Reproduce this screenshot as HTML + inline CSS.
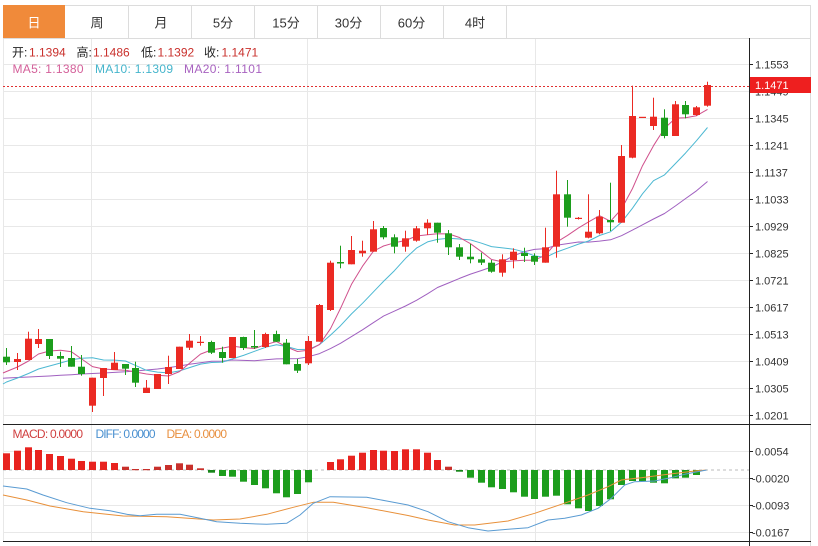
<!DOCTYPE html>
<html>
<head>
<meta charset="utf-8">
<style>
html,body{margin:0;padding:0;background:#fff;}
body{width:818px;height:546px;overflow:hidden;}
svg{display:block;}
.ax{font-family:"Liberation Sans","Noto Sans CJK SC",sans-serif;font-size:11px;fill:#333;}
.tab{font-family:"Liberation Sans","Noto Sans CJK SC",sans-serif;font-size:13px;fill:#333;text-anchor:middle;}
.inf{font-family:"Liberation Sans","Noto Sans CJK SC",sans-serif;font-size:12px;}
</style>
</head>
<body>
<svg width="818" height="546" viewBox="0 0 818 546" xmlns="http://www.w3.org/2000/svg">
<rect x="0" y="0" width="818" height="546" fill="#fff"/>

<!-- grid main -->
<g stroke="#e8e8e8" stroke-width="1" shape-rendering="crispEdges">
<line x1="3" x2="749" y1="64.5" y2="64.5"/>
<line x1="3" x2="749" y1="91.5" y2="91.5"/>
<line x1="3" x2="749" y1="118.5" y2="118.5"/>
<line x1="3" x2="749" y1="145.5" y2="145.5"/>
<line x1="3" x2="749" y1="172.5" y2="172.5"/>
<line x1="3" x2="749" y1="199.5" y2="199.5"/>
<line x1="3" x2="749" y1="226.5" y2="226.5"/>
<line x1="3" x2="749" y1="253.5" y2="253.5"/>
<line x1="3" x2="749" y1="280.5" y2="280.5"/>
<line x1="3" x2="749" y1="307.5" y2="307.5"/>
<line x1="3" x2="749" y1="334.5" y2="334.5"/>
<line x1="3" x2="749" y1="361.5" y2="361.5"/>
<line x1="3" x2="749" y1="388.5" y2="388.5"/>
<line x1="3" x2="749" y1="415.5" y2="415.5"/>
<line x1="3" x2="749" y1="451.5" y2="451.5"/>
<line x1="3" x2="749" y1="478.5" y2="478.5"/>
<line x1="3" x2="749" y1="505.5" y2="505.5"/>
<line x1="3" x2="749" y1="532.5" y2="532.5"/>
<line x1="3.5" x2="3.5" y1="38" y2="541"/>
<line x1="91.5" x2="91.5" y1="38" y2="541"/>
<line x1="307.5" x2="307.5" y1="38" y2="541"/>
<line x1="535.5" x2="535.5" y1="38" y2="541"/>
</g>

<!-- outer / tab borders -->
<g stroke="#dcdcdc" stroke-width="1" shape-rendering="crispEdges" fill="none">
<line x1="3" x2="811" y1="5.5" y2="5.5"/>
<line x1="3" x2="811" y1="38.5" y2="38.5"/>
<line x1="810.5" x2="810.5" y1="5" y2="546"/>
<line x1="128.5" x2="128.5" y1="5" y2="38"/>
<line x1="191.5" x2="191.5" y1="5" y2="38"/>
<line x1="254.5" x2="254.5" y1="5" y2="38"/>
<line x1="317.5" x2="317.5" y1="5" y2="38"/>
<line x1="380.5" x2="380.5" y1="5" y2="38"/>
<line x1="443.5" x2="443.5" y1="5" y2="38"/>
<line x1="506.5" x2="506.5" y1="5" y2="38"/>
</g>
<rect x="3" y="5" width="62" height="33" fill="#f08a3a"/>

<!-- tabs -->
<text class="tab" x="34" y="27.5" style="fill:#fff">日</text>
<text class="tab" x="97" y="27.5">周</text>
<text class="tab" x="161" y="27.5">月</text>
<text class="tab" x="223" y="27.5">5分</text>
<text class="tab" x="286" y="27.5">15分</text>
<text class="tab" x="348.5" y="27.5">30分</text>
<text class="tab" x="411.5" y="27.5">60分</text>
<text class="tab" x="475" y="27.5">4时</text>

<!-- info -->
<g class="inf">
<text x="12" y="56.5" fill="#222">开:</text><text x="29" y="56.5" fill="#c9302c">1.1394</text>
<text x="76.5" y="56.5" fill="#222">高:</text><text x="93" y="56.5" fill="#c9302c">1.1486</text>
<text x="141" y="56.5" fill="#222">低:</text><text x="157.5" y="56.5" fill="#c9302c">1.1392</text>
<text x="204" y="56.5" fill="#222">收:</text><text x="221.5" y="56.5" fill="#c9302c">1.1471</text>
<text x="12.5" y="73" fill="#d4609a" textLength="71">MA5: 1.1380</text>
<text x="95" y="73" fill="#45b5cc" textLength="78">MA10: 1.1309</text>
<text x="184" y="73" fill="#a862c0" textLength="78">MA20: 1.1101</text>
</g>

<!-- MA lines -->
<g fill="none" stroke-width="1" stroke-linejoin="round">
<polyline stroke="#a060c0" points="3,378.3 6.5,378 17.5,377.5 28.5,377 38.5,376.5 49.5,376 60.5,375.3 71.5,374.7 81.5,374 92.5,373.5 103.5,373 114.5,372.4 125.5,371.8 135.5,371 146.5,370 157.5,369 168.5,367.6 179.5,366 189.5,364.3 200.5,362.8 211.5,361.3 222.5,361.1 232.5,360 243.5,360.4 254.5,360.8 265.5,359.7 276.5,358.9 286.5,358.7 297.5,358.6 308.5,356.7 319.5,353.6 330.5,348.6 340.5,343.3 351.5,336.6 362.5,329.8 373.5,322.6 383.5,316.1 394.5,311.1 405.5,306 416.5,300.3 427.5,293.8 437.5,287.5 448.5,283 459.5,278.4 470.5,274.1 481.5,270.5 491.5,267 502.5,261.8 513.5,255.8 524.5,251.6 534.5,249.4 545.5,248.6 556.5,245.2 567.5,243.6 578.5,242 588.5,242.1 599.5,241.1 610.5,239.8 621.5,235.7 632.5,230.1 642.5,224.8 653.5,219 664.5,213.5 675.5,205.9 685.5,198.6 696.5,190.8 707.5,181.5"/>
<polyline stroke="#4cb8d2" points="3,384 6.5,382 17.5,378 28.5,373.5 38.5,369 49.5,366 60.5,363 71.5,359.8 81.5,358.3 92.5,357.8 103.5,360 114.5,360.1 125.5,361 135.5,365.4 146.5,370.3 157.5,372.1 168.5,372.9 179.5,370.9 189.5,367.6 200.5,364.1 211.5,362.5 222.5,362.1 232.5,358.9 243.5,355.4 254.5,351.3 265.5,347.3 276.5,344.8 286.5,346.5 297.5,349.5 308.5,349.4 319.5,344.6 330.5,335.1 340.5,325.7 351.5,313.9 362.5,303.3 373.5,291.8 383.5,281.4 394.5,270.6 405.5,258.4 416.5,248.1 427.5,241.9 437.5,239.4 448.5,238.3 459.5,239 470.5,239.9 481.5,243.2 491.5,246.6 502.5,247.9 513.5,249.2 524.5,252 534.5,255.9 545.5,257.4 556.5,252.1 567.5,248.2 578.5,244.1 588.5,241 599.5,235.5 610.5,231.8 621.5,222.2 632.5,208.2 642.5,193.8 653.5,180.7 664.5,174.9 675.5,163.5 685.5,153.1 696.5,140.7 707.5,127.5"/>
<polyline stroke="#d0508c" points="3,373 6.5,371.5 17.5,367 28.5,361 38.5,354 49.5,351 60.5,350.3 71.5,351.8 81.5,358.9 92.5,366.6 103.5,369 114.5,369.8 125.5,370.2 135.5,372 146.5,374 157.5,375.2 168.5,376 179.5,371.6 189.5,363.2 200.5,354.1 211.5,349.9 222.5,348.1 232.5,346.1 243.5,347.6 254.5,348.5 265.5,344.7 276.5,341.5 286.5,346.9 297.5,351.5 308.5,350.3 319.5,344.5 330.5,328.7 340.5,308.4 351.5,284.3 362.5,266.2 373.5,251.1 383.5,246 394.5,242.8 405.5,240.5 416.5,236 427.5,234.7 437.5,233.7 448.5,233.9 459.5,237.5 470.5,243.7 481.5,251.7 491.5,259.5 502.5,261.9 513.5,260.9 524.5,260.3 534.5,260.1 545.5,255.2 556.5,242.2 567.5,235.4 578.5,227.9 588.5,221.9 599.5,215.7 610.5,221.3 621.5,209 632.5,188.5 642.5,165.7 653.5,145.7 664.5,128.4 675.5,118.1 685.5,117.7 696.5,115.7 707.5,109.4"/>
</g>

<!-- red candles -->
<g fill="#eb2a23">
<rect x="17" y="353" width="1" height="17"/><rect x="14" y="359" width="7" height="3"/>
<rect x="28" y="331.7" width="1" height="28.3"/><rect x="25" y="338.7" width="7" height="21.3"/>
<rect x="38" y="329" width="1" height="19"/><rect x="35" y="339" width="7" height="5"/>
<rect x="92" y="377.7" width="1" height="34.3"/><rect x="89" y="377.7" width="7" height="28"/>
<rect x="103" y="368" width="1" height="28"/><rect x="100" y="368" width="7" height="10"/>
<rect x="114" y="352" width="1" height="18"/><rect x="111" y="362.7" width="7" height="7.3"/>
<rect x="146" y="380" width="1" height="13"/><rect x="143" y="387.7" width="7" height="5.3"/>
<rect x="157" y="374" width="1" height="15"/><rect x="154" y="374" width="7" height="15"/>
<rect x="168" y="355.7" width="1" height="28.3"/><rect x="165" y="367" width="7" height="7"/>
<rect x="179" y="346.7" width="1" height="22.3"/><rect x="176" y="346.7" width="7" height="22.3"/>
<rect x="189" y="334" width="1" height="16"/><rect x="186" y="340.7" width="7" height="7"/>
<rect x="200" y="336" width="1" height="9.7"/><rect x="197" y="341.8" width="7" height="1.2"/>
<rect x="232" y="337" width="1" height="21"/><rect x="229" y="337" width="7" height="21"/>
<rect x="265" y="332.7" width="1" height="15.3"/><rect x="262" y="334" width="7" height="13"/>
<rect x="308" y="336" width="1" height="29"/><rect x="305" y="341" width="7" height="22.3"/>
<rect x="319" y="304" width="1" height="37.7"/><rect x="316" y="305" width="7" height="36.7"/>
<rect x="330" y="260.7" width="1" height="50.3"/><rect x="327" y="262.7" width="7" height="47.3"/>
<rect x="351" y="236" width="1" height="28.3"/><rect x="348" y="250" width="7" height="14.3"/>
<rect x="362" y="240.7" width="1" height="16"/><rect x="359" y="250.7" width="7" height="2.6"/>
<rect x="373" y="221" width="1" height="30.7"/><rect x="370" y="229.3" width="7" height="22.4"/>
<rect x="405" y="230.7" width="1" height="21"/><rect x="402" y="238.3" width="7" height="8.4"/>
<rect x="416" y="226" width="1" height="15.7"/><rect x="413" y="228.3" width="7" height="12.4"/>
<rect x="427" y="219.3" width="1" height="15.7"/><rect x="424" y="222.7" width="7" height="5.6"/>
<rect x="502" y="254.3" width="1" height="22.4"/><rect x="499" y="259.3" width="7" height="13.4"/>
<rect x="513" y="248.3" width="1" height="20"/><rect x="510" y="251.7" width="7" height="8.3"/>
<rect x="545" y="227.7" width="1" height="35"/><rect x="542" y="247.3" width="7" height="15.4"/>
<rect x="556" y="170.7" width="1" height="87"/><rect x="553" y="194.3" width="7" height="52.4"/>
<rect x="578" y="217" width="1" height="2.5"/><rect x="575" y="217.8" width="7" height="1.2"/>
<rect x="588" y="194.3" width="1" height="44"/><rect x="585" y="231.7" width="7" height="6"/>
<rect x="599" y="210" width="1" height="24.3"/><rect x="596" y="216.7" width="7" height="16.6"/>
<rect x="621" y="145" width="1" height="77.7"/><rect x="618" y="156" width="7" height="66.7"/>
<rect x="632" y="85.7" width="1" height="72.6"/><rect x="629" y="116" width="7" height="41.7"/>
<rect x="639" y="116.8" width="7" height="1.2"/>
<rect x="653" y="97.7" width="1" height="32.3"/><rect x="650" y="116.7" width="7" height="9.3"/>
<rect x="675" y="101" width="1" height="35"/><rect x="672" y="104.3" width="7" height="31.7"/>
<rect x="696" y="106" width="1" height="9.7"/><rect x="693" y="107.3" width="7" height="7.7"/>
<rect x="707" y="81.7" width="1" height="25"/><rect x="704" y="85" width="7" height="20.7"/>
</g>

<!-- green candles -->
<g fill="#1c9d1c">
<rect x="6" y="348" width="1" height="17"/><rect x="3" y="356.7" width="7" height="5.6"/>
<rect x="49" y="339" width="1" height="20"/><rect x="46" y="339" width="7" height="17"/>
<rect x="60" y="351.7" width="1" height="15.3"/><rect x="57" y="356" width="7" height="2.7"/>
<rect x="71" y="346" width="1" height="20.7"/><rect x="68" y="358" width="7" height="8.7"/>
<rect x="81" y="355" width="1" height="20.7"/><rect x="78" y="366.7" width="7" height="7.3"/>
<rect x="125" y="364" width="1" height="11"/><rect x="122" y="364" width="7" height="4.7"/>
<rect x="135" y="361.7" width="1" height="25.3"/><rect x="132" y="368" width="7" height="14.7"/>
<rect x="211" y="340.7" width="1" height="13.3"/><rect x="208" y="342" width="7" height="10.7"/>
<rect x="222" y="346.7" width="1" height="16"/><rect x="219" y="352" width="7" height="6"/>
<rect x="243" y="336.7" width="1" height="13.3"/><rect x="240" y="337" width="7" height="11"/>
<rect x="254" y="330" width="1" height="19"/><rect x="251" y="346" width="7" height="1.5"/>
<rect x="276" y="330.7" width="1" height="11.3"/><rect x="273" y="334" width="7" height="7.7"/>
<rect x="286" y="339" width="1" height="25.3"/><rect x="283" y="342.7" width="7" height="21.6"/>
<rect x="297" y="359" width="1" height="14"/><rect x="294" y="364" width="7" height="6.7"/>
<rect x="340" y="245.7" width="1" height="22.6"/><rect x="337" y="262" width="7" height="1.5"/>
<rect x="383" y="226" width="1" height="13.3"/><rect x="380" y="228" width="7" height="9.3"/>
<rect x="394" y="234.3" width="1" height="19"/><rect x="391" y="237.3" width="7" height="9.4"/>
<rect x="437" y="222.7" width="1" height="20"/><rect x="434" y="222.7" width="7" height="10"/>
<rect x="448" y="230" width="1" height="25"/><rect x="445" y="233.3" width="7" height="14"/>
<rect x="459" y="244" width="1" height="16"/><rect x="456" y="247.3" width="7" height="9.4"/>
<rect x="470" y="244" width="1" height="19.3"/><rect x="467" y="256.7" width="7" height="2.6"/>
<rect x="481" y="252.7" width="1" height="12.3"/><rect x="478" y="259.3" width="7" height="3.4"/>
<rect x="491" y="260" width="1" height="12.7"/><rect x="488" y="262.7" width="7" height="9"/>
<rect x="524" y="247.7" width="1" height="14.3"/><rect x="521" y="253" width="7" height="3"/>
<rect x="534" y="253.3" width="1" height="11.7"/><rect x="531" y="256" width="7" height="5.7"/>
<rect x="567" y="180" width="1" height="46.7"/><rect x="564" y="194.3" width="7" height="23.4"/>
<rect x="610" y="182.7" width="1" height="48.3"/><rect x="607" y="220" width="7" height="2.3"/>
<rect x="664" y="109.3" width="1" height="29"/><rect x="661" y="117.7" width="7" height="18.3"/>
<rect x="685" y="101" width="1" height="17.3"/><rect x="682" y="105" width="7" height="9.3"/>
</g>

<!-- current price dotted line -->
<line x1="3" x2="749" y1="86.5" y2="86.5" stroke="#e03030" stroke-width="1" stroke-dasharray="2,2"/>

<!-- MACD zero line -->
<line x1="3" x2="749" y1="470" y2="470" stroke="#bbb" stroke-width="1" stroke-dasharray="3,3"/>

<!-- MACD histogram red -->
<g fill="#e8231f">
<rect x="3" y="453.3" width="7" height="16.7"/>
<rect x="14" y="450.7" width="7" height="19.3"/>
<rect x="25" y="447.3" width="7" height="22.7"/>
<rect x="35" y="450" width="7" height="20"/>
<rect x="46" y="454" width="7" height="16"/>
<rect x="57" y="456" width="7" height="14"/>
<rect x="68" y="458.7" width="7" height="11.3"/>
<rect x="78" y="461" width="7" height="9"/>
<rect x="89" y="461.7" width="7" height="8.3"/>
<rect x="100" y="461.7" width="7" height="8.3"/>
<rect x="111" y="463" width="7" height="7"/>
<rect x="327" y="462" width="7" height="8"/>
<rect x="337" y="459.3" width="7" height="10.7"/>
<rect x="348" y="455.7" width="7" height="14.3"/>
<rect x="359" y="452.7" width="7" height="17.3"/>
<rect x="370" y="450" width="7" height="20"/>
<rect x="380" y="450.7" width="7" height="19.3"/>
<rect x="391" y="451" width="7" height="19"/>
<rect x="402" y="449.3" width="7" height="20.7"/>
<rect x="413" y="449.3" width="7" height="20.7"/>
<rect x="424" y="452.7" width="7" height="17.3"/>
<rect x="434" y="460" width="7" height="10"/>
</g>
<g fill="#c8302b">
<rect x="122" y="466.7" width="7" height="3.3"/>
<rect x="132" y="469" width="7" height="1.2"/>
<rect x="143" y="469" width="7" height="1.2"/>
<rect x="154" y="466.7" width="7" height="3.3"/>
<rect x="165" y="465" width="7" height="5"/>
<rect x="176" y="463.3" width="7" height="6.7"/>
<rect x="186" y="464.7" width="7" height="5.3"/>
<rect x="197" y="468.3" width="7" height="1.7"/>
<rect x="445" y="466.7" width="7" height="3.3"/>
</g>
<!-- MACD histogram green -->
<g fill="#1c9d1c">
<rect x="208" y="470" width="7" height="2.7" fill="#17851a"/>
<rect x="219" y="470" width="7" height="6"/>
<rect x="229" y="470" width="7" height="6.7"/>
<rect x="240" y="470" width="7" height="11.7"/>
<rect x="251" y="470" width="7" height="15"/>
<rect x="262" y="470" width="7" height="18.3"/>
<rect x="273" y="470" width="7" height="23.3"/>
<rect x="283" y="470" width="7" height="27.3"/>
<rect x="294" y="470" width="7" height="24"/>
<rect x="305" y="470" width="7" height="12.3"/>
<rect x="456" y="470" width="7" height="1.7" fill="#17851a"/>
<rect x="467" y="470" width="7" height="7.7"/>
<rect x="478" y="470" width="7" height="12.7"/>
<rect x="488" y="470" width="7" height="17.3"/>
<rect x="499" y="470" width="7" height="19"/>
<rect x="510" y="470" width="7" height="22.3"/>
<rect x="521" y="470" width="7" height="26.7"/>
<rect x="531" y="470" width="7" height="29"/>
<rect x="542" y="470" width="7" height="26.7"/>
<rect x="553" y="470" width="7" height="25.7"/>
<rect x="564" y="470" width="7" height="34.3"/>
<rect x="575" y="470" width="7" height="38.3"/>
<rect x="585" y="470" width="7" height="41"/>
<rect x="596" y="470" width="7" height="36"/>
<rect x="607" y="470" width="7" height="29.3"/>
<rect x="618" y="470" width="7" height="15"/>
<rect x="629" y="470" width="7" height="11"/>
<rect x="639" y="470" width="7" height="11"/>
<rect x="650" y="470" width="7" height="12.7"/>
<rect x="661" y="470" width="7" height="13.3"/>
<rect x="672" y="470" width="7" height="8.3"/>
<rect x="682" y="470" width="7" height="7.7"/>
<rect x="693" y="470" width="7" height="5"/>
</g>

<!-- DIFF / DEA -->
<g fill="none" stroke-width="1" stroke-linejoin="round">
<polyline stroke="#e8903a" points="3,495 26.7,500 50,506 83.3,511.7 123.3,516 166.7,516.7 213.3,520 240,519 266.7,514.3 293.3,507.3 313.3,502.3 333.3,502.3 366.7,507.7 408,515.5 428,520 454.7,525 474.7,525 508,521 534.7,513.3 561.3,504.3 588,495 608,486.7 621.3,480 641.3,477.7 668,474.3 694.7,471 706.7,470"/>
<polyline stroke="#5a9bd2" points="3,486 26.7,489 43,495 66.7,502.7 90,508.3 110,510.7 126.7,514.3 140,515.7 156.7,514.3 180,514.3 200,518.3 216.7,521.7 240,523.3 266.7,524.3 286.7,523.3 300,515 313.3,503.3 330,496.7 366.7,497.3 386.7,501 408,505 428,511.7 448,521.7 468,527.7 488,531 508,529.3 528,527.7 548,520 564.7,518.3 581.3,515 598,508.3 611.3,498.3 624.7,485 634.7,481.7 654.7,481 668,478.3 684.7,474.3 701.3,471 706.7,470"/>
</g>

<!-- MACD legend -->
<g class="inf">
<text x="12.5" y="438" fill="#d04040" textLength="70.5">MACD: 0.0000</text>
<text x="95.5" y="438" fill="#4a90d0" textLength="60">DIFF: 0.0000</text>
<text x="166.5" y="438" fill="#e89040" textLength="60.5">DEA: 0.0000</text>
</g>

<!-- axes -->
<g stroke="#222" stroke-width="1" shape-rendering="crispEdges">
<line x1="749.5" x2="749.5" y1="38" y2="546"/>
<line x1="3" x2="811" y1="424.5" y2="424.5"/>
<line x1="3" x2="811" y1="541.5" y2="541.5"/>
<line x1="749" x2="753" y1="64.5" y2="64.5"/>
<line x1="749" x2="753" y1="91.5" y2="91.5"/>
<line x1="749" x2="753" y1="118.5" y2="118.5"/>
<line x1="749" x2="753" y1="145.5" y2="145.5"/>
<line x1="749" x2="753" y1="172.5" y2="172.5"/>
<line x1="749" x2="753" y1="199.5" y2="199.5"/>
<line x1="749" x2="753" y1="226.5" y2="226.5"/>
<line x1="749" x2="753" y1="253.5" y2="253.5"/>
<line x1="749" x2="753" y1="280.5" y2="280.5"/>
<line x1="749" x2="753" y1="307.5" y2="307.5"/>
<line x1="749" x2="753" y1="334.5" y2="334.5"/>
<line x1="749" x2="753" y1="361.5" y2="361.5"/>
<line x1="749" x2="753" y1="388.5" y2="388.5"/>
<line x1="749" x2="753" y1="415.5" y2="415.5"/>
<line x1="749" x2="753" y1="451.5" y2="451.5"/>
<line x1="749" x2="753" y1="478.5" y2="478.5"/>
<line x1="749" x2="753" y1="505.5" y2="505.5"/>
<line x1="749" x2="753" y1="532.5" y2="532.5"/>
</g>
<g class="ax">
<text x="755" y="68.5">1.1553</text>
<text x="755" y="95.5">1.1449</text>
<text x="755" y="122.5">1.1345</text>
<text x="755" y="149.5">1.1241</text>
<text x="755" y="176.5">1.1137</text>
<text x="755" y="203.5">1.1033</text>
<text x="755" y="230.5">1.0929</text>
<text x="755" y="257.5">1.0825</text>
<text x="755" y="284.5">1.0721</text>
<text x="755" y="311.5">1.0617</text>
<text x="755" y="338.5">1.0513</text>
<text x="755" y="365.5">1.0409</text>
<text x="755" y="392.5">1.0305</text>
<text x="755" y="419.5">1.0201</text>
<text x="755" y="455.5">0.0054</text>
<text x="752" y="482.5">-0.0020</text>
<text x="752" y="509.5">-0.0093</text>
<text x="752" y="536.5">-0.0167</text>
</g>

<!-- current price label -->
<rect x="750" y="77" width="61" height="16" fill="#ee1f1f"/>
<text class="ax" x="755" y="89" style="fill:#fff">1.1471</text>
</svg>
</body>
</html>
